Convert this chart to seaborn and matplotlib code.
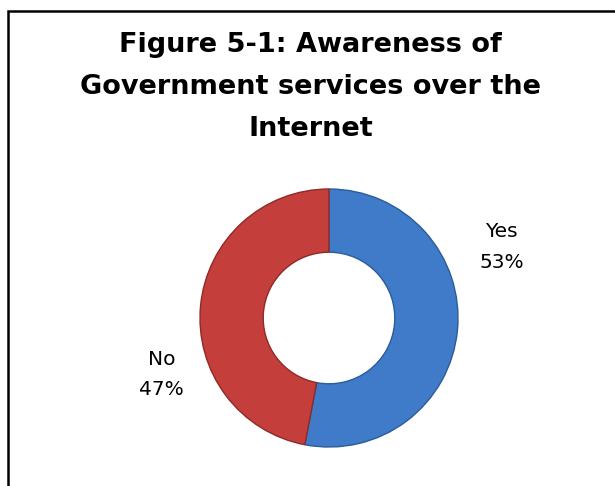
import matplotlib
matplotlib.use("Agg")
import matplotlib.pyplot as plt
import seaborn as sns
from matplotlib.patches import Rectangle

labels = ["Yes", "No"]
shares = [53, 47]
colors = ["#3F7BC8", "#C43E3B"]
edge_colors = ["#2B5C9A", "#8E2A28"]
title = "Figure 5-1: Awareness of\nGovernment services over the\nInternet"

sns.set_style("white")
plt.rcParams["font.family"] = ["DejaVu Sans"]
plt.rcParams["text.color"] = "black"

fig = plt.figure(figsize=(6.15, 4.86), dpi=100)

# frame round the chart (right and bottom edges run off the picture)
fig.patches.append(Rectangle((8 / 615, -0.02), 1.0, 1 - 11 / 486 + 0.02,
                             transform=fig.transFigure, fill=False,
                             edgecolor="black", linewidth=1.8))

fig.text(0.505, 0.934, title, ha="center", va="top", fontsize=19.5,
         fontweight="bold", linespacing=1.8)

ax = fig.add_axes([200 / 615, 39 / 486, 258 / 615, 258 / 486])
wedges, _ = ax.pie(shares, colors=colors, startangle=90, counterclock=False,
                   radius=1, wedgeprops=dict(width=0.49, linewidth=1.0))
for w, ec in zip(wedges, edge_colors):
    w.set_edgecolor(ec)
ax.set_xlim(-1, 1)
ax.set_ylim(-1, 1)
ax.set_aspect("equal")
ax.axis("off")

label_pos = [(1.34, 0.55), (-1.3, -0.44)]
for lab, val, (x, y) in zip(labels, shares, label_pos):
    ax.text(x, y, f"{lab}\n{val}%", ha="center", va="center", fontsize=14.5,
            linespacing=1.75, clip_on=False)

fig.savefig("out.png", dpi=100)
